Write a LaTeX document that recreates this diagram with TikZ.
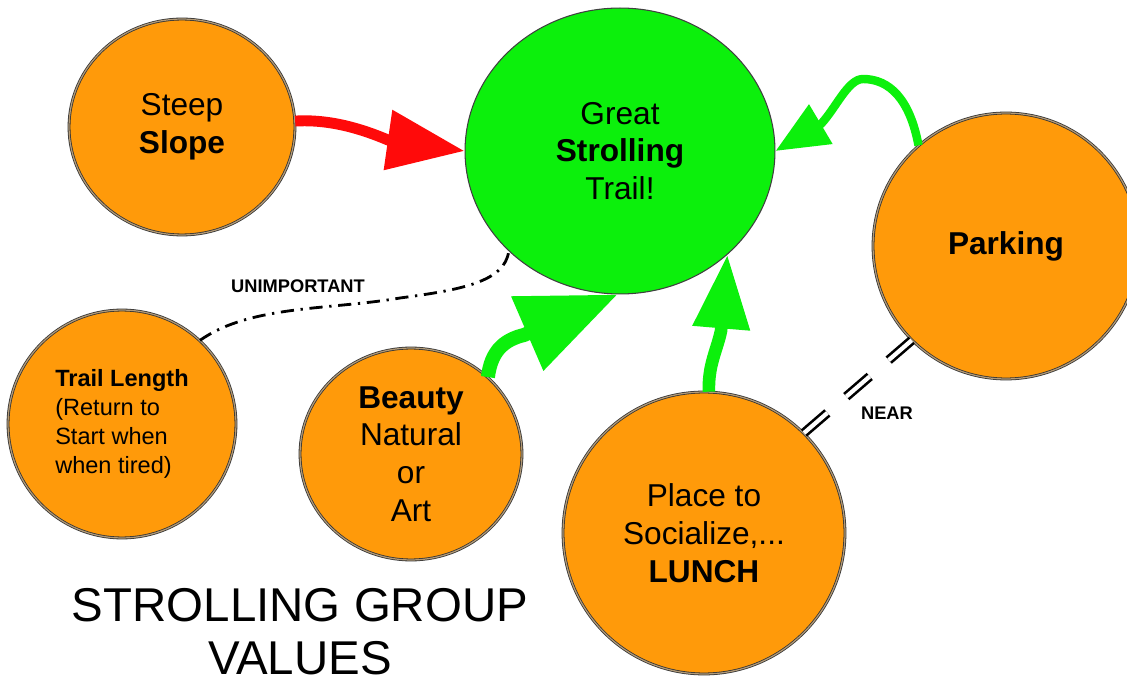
\documentclass[tikz,border=0pt]{standalone}
\usepackage{fontspec}
\setmainfont{Liberation Sans}
\usetikzlibrary{shapes.geometric,arrows.meta}
\definecolor{orangefill}{HTML}{FF9A0A}
\definecolor{greenfill}{HTML}{0CF00C}
\definecolor{redarrow}{HTML}{FF0A0A}
\definecolor{rimcol}{HTML}{B29A78}
\begin{document}
\begin{tikzpicture}[x=0.02cm,y=-0.02cm,
  valuenode/.style={ellipse, draw=black!80, line width=0.45pt, double=rimcol,
    double distance=0.7pt, fill=orangefill, inner sep=0pt, align=center,
    font=\fontsize{18}{21.5}\selectfont},
  goalnode/.style={ellipse, draw=black!75, line width=0.6pt, fill=greenfill,
    inner sep=0pt, align=center, font=\fontsize{18}{21.5}\selectfont},
  redlink/.style={draw=redarrow, line width=6.2pt, line join=round,
    -{Triangle[length=44pt,width=33pt]}},
  greenlink/.style={draw=greenfill, line join=round},
  unimpline/.style={line width=1.6pt,
    dash pattern=on 7.5pt off 3.8pt on 1.3pt off 3.8pt},
  nearline/.style={line width=1.5pt, double=white, double distance=2.4pt,
    dash pattern=on 17.6pt off 14.2pt},
  smalllabel/.style={font=\bfseries\fontsize{10.4}{12}\selectfont, anchor=base, inner sep=0pt}
]
\useasboundingbox (0,0) rectangle (1127,682);
\fill[white] (0,0) rectangle (1127,682);

% nodes
\node[valuenode, minimum width=4.52cm, minimum height=4.32cm] (steep) at (182,127)
  {Steep\\\textbf{Slope}};
\node[goalnode, minimum width=6.2cm, minimum height=5.72cm] (great) at (620,151)
  {Great\\\textbf{Strolling}\\Trail!};
\node[valuenode, minimum width=5.32cm, minimum height=5.32cm] (parking) at (1006,246)
  {\textbf{Parking}};
\node[valuenode, minimum width=4.56cm, minimum height=4.56cm, align=left,
  font=\fontsize{13.4}{16.4}\selectfont] (trail) at (122,424)
  {\textbf{Trail Length}\\(Return to\\Start when\\when tired)};
\node[valuenode, minimum width=4.44cm, minimum height=4.24cm] (beauty) at (411,454)
  {\textbf{Beauty}\\Natural\\or\\Art};
\node[valuenode, minimum width=5.64cm, minimum height=5.64cm] (place) at (704,533)
  {Place to\\Socialize,...\\\textbf{LUNCH}};

% connectors
\draw[redlink] (steep.3) .. controls (330,119) and (362,129) .. (388,140) -- (great.180);
\draw[greenlink, line width=8pt, -{Triangle[length=56pt,width=44pt]}]
  (beauty.45) .. controls (491,352) and (503,340) .. (524,335) -- (great.269);
\draw[greenlink, line width=7.2pt, -{Triangle[length=42pt,width=31pt]}]
  (place.88) .. controls (708,365) and (717,350) .. (721,331) -- (great.316);
\draw[greenlink, line width=4.8pt, -{Triangle[length=30pt,width=25pt]}]
  (parking.131) .. controls (910,100) and (890,79) .. (863,79)
  .. controls (848,79) and (836,108) .. (821,124) -- (great.east);
\draw[unimpline] (trail.47) .. controls (250,305) and (330,310) .. (400,298)
  .. controls (460,290) and (505,282) .. (great.222);
\draw[nearline] (place.45) -- (parking.225);

% labels
\node[smalllabel] (unimp) at (298,293) {UNIMPORTANT};
\node[smalllabel] (near) at (887,420) {NEAR};
\node[font=\fontsize{27}{30}\selectfont, align=center, anchor=north, inner sep=0pt]
  (title) at (300,588) {STROLLING GROUP\\VALUES};
\end{tikzpicture}
\end{document}
